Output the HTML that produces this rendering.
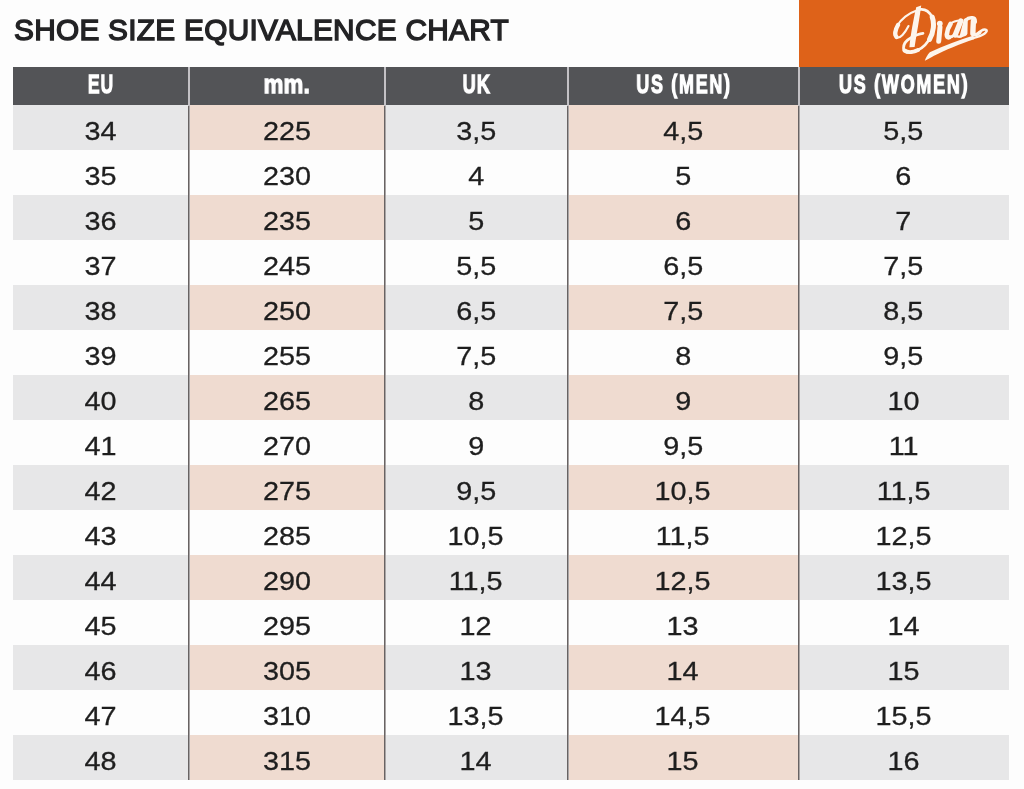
<!DOCTYPE html><html><head><meta charset="utf-8"><style>
*{margin:0;padding:0;box-sizing:border-box}
body *{will-change:transform}
html,body{width:1024px;height:789px;background:#fdfdfd;overflow:hidden;position:relative;font-family:"Liberation Sans",sans-serif}
.title{position:absolute;left:14px;top:9.8px;font-size:29.8px;line-height:40px;color:#232325;white-space:nowrap;letter-spacing:0.28px;font-weight:normal;-webkit-text-stroke:1.4px #232325}
.logo{position:absolute;left:799px;top:0;width:209.5px;height:67px;background:#de6219}
.hdr{position:absolute;left:13px;top:67px;width:995.5px;height:38.5px;background:#535457}
.h{position:absolute;top:65px;height:38px;line-height:38px;text-align:center;color:#fff;font-weight:bold;font-size:26.3px;white-space:nowrap;-webkit-text-stroke:1.3px #fff}
.h span{display:inline-block}
.r{position:absolute;left:13px;width:995.5px;height:45px}
.g{background:#e7e7e8}
.p{position:absolute;height:45px}
.pk{background:#efdbd0}
.c{position:absolute;height:45px;line-height:45px;text-align:center;color:#1e1e1e;font-size:26.3px;letter-spacing:0px;text-indent:0px;white-space:nowrap;-webkit-text-stroke:0.3px #1e1e1e}
.c span{display:inline-block;transform:translateY(0.2px) scaleX(1.095)}
.vl{position:absolute;width:1px;top:105px;height:675px;background:#686363;box-shadow:1px 0 0 #aaa6a6}
.hl{position:absolute;width:2px;top:67px;height:38.5px;background:#c3c1c5}
</style></head><body>
<div class="title">SHOE SIZE EQUIVALENCE CHART</div>
<div class="logo"></div>
<svg style="position:absolute;left:880px;top:0;width:120px;height:67px" viewBox="880 0 120 67">
<g fill="none" stroke="#fdf5ec" stroke-linecap="round" stroke-linejoin="round">
<path d="M915.5,11 C909,13 901,19 897,26 C894,31 893.5,36 896.5,37.5 C900,39 905,33 908.5,26" stroke-width="2.1"/>
<path d="M898,25 C895,30 894.5,35 896.5,37" stroke-width="4.3"/>
<path d="M920,9.5 C924,9 929,11 932,17 C935,23 934,32 929,40 C925,46 919,51 912,52 C906.5,53 903.5,51 903.5,48 C903.5,44 907,40 911,37.8 C915,35.5 919,33.8 923,33.4" stroke-width="2.7"/>
<path d="M932.2,17 C934.5,23 933.8,32 929.5,39.5" stroke-width="5"/>
<path d="M904.5,50.5 C908,53 914,52 918,50" stroke-width="4"/>
<path d="M940,27 C939.6,32 939.1,37 938.7,41.3" stroke-width="5"/>
<path d="M950.5,24 C948.5,27 947,31 946.8,34.5 C946.7,36.5 947.5,37.5 949,37.3" stroke-width="4.6"/>
<path d="M949.5,24.2 C952.5,21.8 956.5,20.3 961,20.5" stroke-width="2"/>
<path d="M949,37.3 C951.5,37 954,35.5 955.5,34" stroke-width="2.8"/>
<path d="M960.8,21 L955.2,35" stroke-width="5.2"/>

<path d="M955,35.2 C957.5,37 960.5,37 962.5,35.5" stroke-width="2.6"/>
<path d="M966,20 C967.5,18.2 970,17.5 972.5,17.8 C974.5,18.1 975.5,19.5 975.3,22" stroke-width="3.4"/>
<path d="M973.4,21 C973.2,25 972.9,30 972.9,33.5" stroke-width="5.4"/>
<path d="M972.8,33.5 C974,35.5 977,35 980,32.5" stroke-width="3.2"/>
<path d="M976,35 C980,31 984.5,28.6 986.3,30 C988,31.5 984,35.8 973,38" stroke-width="2.4"/>
</g>
<g fill="#fdf5ec">
<circle cx="939.8" cy="23.6" r="2.9"/>
<path d="M959.6,36 L963.8,19.2 C965.3,17.6 967.5,18 967.8,19.5 L967.4,33.8 C967,36.5 961,37.5 959.6,36 Z"/>
<path d="M973.5,35.6 L974.2,39.2 C960,43.8 945,50.2 934,55.8 C930.5,57.8 927.5,59.7 924.8,60.8 C925.8,58 927.3,55 929.8,52.3 C944,45.8 958,40.2 973.5,35.6 Z"/>
<path d="M916.2,7.2 L921.2,5.5 C919.7,18 916.7,33 914.6,46.9 L909.4,47.3 C910.8,33 913.8,18 916.2,7.2 Z"/>
</g>
</svg>

<div class="hdr"></div>
<div class="r g" style="top:105px"></div>
<div class="p pk" style="top:105px;left:189px;width:195px"></div>
<div class="p pk" style="top:105px;left:568px;width:230px"></div>
<div class="r g" style="top:195px"></div>
<div class="p pk" style="top:195px;left:189px;width:195px"></div>
<div class="p pk" style="top:195px;left:568px;width:230px"></div>
<div class="r g" style="top:285px"></div>
<div class="p pk" style="top:285px;left:189px;width:195px"></div>
<div class="p pk" style="top:285px;left:568px;width:230px"></div>
<div class="r g" style="top:375px"></div>
<div class="p pk" style="top:375px;left:189px;width:195px"></div>
<div class="p pk" style="top:375px;left:568px;width:230px"></div>
<div class="r g" style="top:465px"></div>
<div class="p pk" style="top:465px;left:189px;width:195px"></div>
<div class="p pk" style="top:465px;left:568px;width:230px"></div>
<div class="r g" style="top:555px"></div>
<div class="p pk" style="top:555px;left:189px;width:195px"></div>
<div class="p pk" style="top:555px;left:568px;width:230px"></div>
<div class="r g" style="top:645px"></div>
<div class="p pk" style="top:645px;left:189px;width:195px"></div>
<div class="p pk" style="top:645px;left:568px;width:230px"></div>
<div class="r g" style="top:735px"></div>
<div class="p pk" style="top:735px;left:189px;width:195px"></div>
<div class="p pk" style="top:735px;left:568px;width:230px"></div>
<div class="vl" style="left:188px"></div>
<div class="hl" style="left:188px"></div>
<div class="vl" style="left:384px"></div>
<div class="hl" style="left:384px"></div>
<div class="vl" style="left:567px"></div>
<div class="hl" style="left:567px"></div>
<div class="vl" style="left:798px"></div>
<div class="hl" style="left:798px"></div>
<div class="h" style="left:13px;width:175px"><span style="transform:scaleX(0.664);letter-spacing:1.5px;text-indent:1.5px">EU</span></div>
<div class="h" style="left:189px;width:195px"><span style="transform:scaleX(0.84);letter-spacing:0.3px;text-indent:0.3px">mm.</span></div>
<div class="h" style="left:385px;width:182px"><span style="transform:scaleX(0.693);letter-spacing:1.5px;text-indent:1.5px">UK</span></div>
<div class="h" style="left:568px;width:230px"><span style="transform:scaleX(0.6829);letter-spacing:2.5px;text-indent:2.5px">US (MEN)</span></div>
<div class="h" style="left:799px;width:209.5px"><span style="transform:scaleX(0.6858);letter-spacing:2.5px;text-indent:2.5px">US (WOMEN)</span></div>
<div class="c" style="top:109px;left:13px;width:175px"><span>34</span></div>
<div class="c" style="top:109px;left:189px;width:195px"><span>225</span></div>
<div class="c" style="top:109px;left:385px;width:182px"><span>3,5</span></div>
<div class="c" style="top:109px;left:568px;width:230px"><span>4,5</span></div>
<div class="c" style="top:109px;left:799px;width:209.5px"><span>5,5</span></div>
<div class="c" style="top:154px;left:13px;width:175px"><span>35</span></div>
<div class="c" style="top:154px;left:189px;width:195px"><span>230</span></div>
<div class="c" style="top:154px;left:385px;width:182px"><span>4</span></div>
<div class="c" style="top:154px;left:568px;width:230px"><span>5</span></div>
<div class="c" style="top:154px;left:799px;width:209.5px"><span>6</span></div>
<div class="c" style="top:199px;left:13px;width:175px"><span>36</span></div>
<div class="c" style="top:199px;left:189px;width:195px"><span>235</span></div>
<div class="c" style="top:199px;left:385px;width:182px"><span>5</span></div>
<div class="c" style="top:199px;left:568px;width:230px"><span>6</span></div>
<div class="c" style="top:199px;left:799px;width:209.5px"><span>7</span></div>
<div class="c" style="top:244px;left:13px;width:175px"><span>37</span></div>
<div class="c" style="top:244px;left:189px;width:195px"><span>245</span></div>
<div class="c" style="top:244px;left:385px;width:182px"><span>5,5</span></div>
<div class="c" style="top:244px;left:568px;width:230px"><span>6,5</span></div>
<div class="c" style="top:244px;left:799px;width:209.5px"><span>7,5</span></div>
<div class="c" style="top:289px;left:13px;width:175px"><span>38</span></div>
<div class="c" style="top:289px;left:189px;width:195px"><span>250</span></div>
<div class="c" style="top:289px;left:385px;width:182px"><span>6,5</span></div>
<div class="c" style="top:289px;left:568px;width:230px"><span>7,5</span></div>
<div class="c" style="top:289px;left:799px;width:209.5px"><span>8,5</span></div>
<div class="c" style="top:334px;left:13px;width:175px"><span>39</span></div>
<div class="c" style="top:334px;left:189px;width:195px"><span>255</span></div>
<div class="c" style="top:334px;left:385px;width:182px"><span>7,5</span></div>
<div class="c" style="top:334px;left:568px;width:230px"><span>8</span></div>
<div class="c" style="top:334px;left:799px;width:209.5px"><span>9,5</span></div>
<div class="c" style="top:379px;left:13px;width:175px"><span>40</span></div>
<div class="c" style="top:379px;left:189px;width:195px"><span>265</span></div>
<div class="c" style="top:379px;left:385px;width:182px"><span>8</span></div>
<div class="c" style="top:379px;left:568px;width:230px"><span>9</span></div>
<div class="c" style="top:379px;left:799px;width:209.5px"><span>10</span></div>
<div class="c" style="top:424px;left:13px;width:175px"><span>41</span></div>
<div class="c" style="top:424px;left:189px;width:195px"><span>270</span></div>
<div class="c" style="top:424px;left:385px;width:182px"><span>9</span></div>
<div class="c" style="top:424px;left:568px;width:230px"><span>9,5</span></div>
<div class="c" style="top:424px;left:799px;width:209.5px"><span>11</span></div>
<div class="c" style="top:469px;left:13px;width:175px"><span>42</span></div>
<div class="c" style="top:469px;left:189px;width:195px"><span>275</span></div>
<div class="c" style="top:469px;left:385px;width:182px"><span>9,5</span></div>
<div class="c" style="top:469px;left:568px;width:230px"><span>10,5</span></div>
<div class="c" style="top:469px;left:799px;width:209.5px"><span>11,5</span></div>
<div class="c" style="top:514px;left:13px;width:175px"><span>43</span></div>
<div class="c" style="top:514px;left:189px;width:195px"><span>285</span></div>
<div class="c" style="top:514px;left:385px;width:182px"><span>10,5</span></div>
<div class="c" style="top:514px;left:568px;width:230px"><span>11,5</span></div>
<div class="c" style="top:514px;left:799px;width:209.5px"><span>12,5</span></div>
<div class="c" style="top:559px;left:13px;width:175px"><span>44</span></div>
<div class="c" style="top:559px;left:189px;width:195px"><span>290</span></div>
<div class="c" style="top:559px;left:385px;width:182px"><span>11,5</span></div>
<div class="c" style="top:559px;left:568px;width:230px"><span>12,5</span></div>
<div class="c" style="top:559px;left:799px;width:209.5px"><span>13,5</span></div>
<div class="c" style="top:604px;left:13px;width:175px"><span>45</span></div>
<div class="c" style="top:604px;left:189px;width:195px"><span>295</span></div>
<div class="c" style="top:604px;left:385px;width:182px"><span>12</span></div>
<div class="c" style="top:604px;left:568px;width:230px"><span>13</span></div>
<div class="c" style="top:604px;left:799px;width:209.5px"><span>14</span></div>
<div class="c" style="top:649px;left:13px;width:175px"><span>46</span></div>
<div class="c" style="top:649px;left:189px;width:195px"><span>305</span></div>
<div class="c" style="top:649px;left:385px;width:182px"><span>13</span></div>
<div class="c" style="top:649px;left:568px;width:230px"><span>14</span></div>
<div class="c" style="top:649px;left:799px;width:209.5px"><span>15</span></div>
<div class="c" style="top:694px;left:13px;width:175px"><span>47</span></div>
<div class="c" style="top:694px;left:189px;width:195px"><span>310</span></div>
<div class="c" style="top:694px;left:385px;width:182px"><span>13,5</span></div>
<div class="c" style="top:694px;left:568px;width:230px"><span>14,5</span></div>
<div class="c" style="top:694px;left:799px;width:209.5px"><span>15,5</span></div>
<div class="c" style="top:739px;left:13px;width:175px"><span>48</span></div>
<div class="c" style="top:739px;left:189px;width:195px"><span>315</span></div>
<div class="c" style="top:739px;left:385px;width:182px"><span>14</span></div>
<div class="c" style="top:739px;left:568px;width:230px"><span>15</span></div>
<div class="c" style="top:739px;left:799px;width:209.5px"><span>16</span></div>
</body></html>
